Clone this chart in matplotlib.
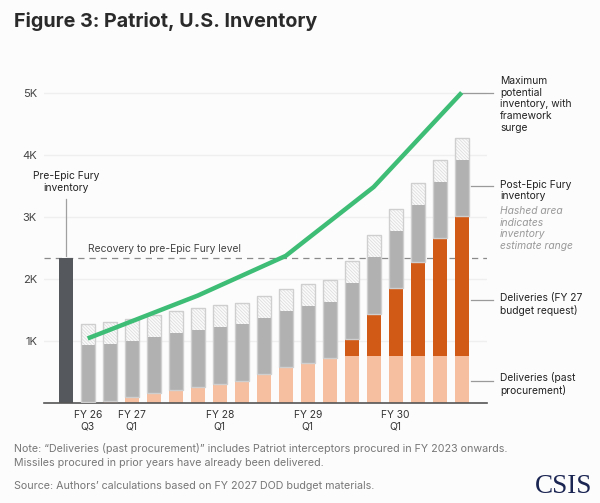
import matplotlib
matplotlib.use("Agg")
import matplotlib.pyplot as plt
import numpy as np

plt.rcParams['font.family'] = ['Inter', 'DejaVu Sans']
plt.rcParams['hatch.linewidth'] = 0.6

# ---------------- data ----------------
quarter_labels = ["FY 26\nQ3", "", "FY 27\nQ1", "", "", "", "FY 28\nQ1", "", "", "",
                  "FY 29\nQ1", "", "", "", "FY 30\nQ1", "", "", ""]
pre_epic_inventory = 2330
past_procurement = [20, 38, 97, 156, 215, 263, 311, 354, 462, 575, 650, 725,
                    752, 752, 752, 752, 752, 752]
fy27_request = [0, 0, 0, 0, 0, 0, 0, 0, 0, 0, 0, 0,
                274, 687, 1106, 1525, 1901, 2256]
post_epic = [909, 907, 907, 913, 913, 913, 913, 915, 913, 907, 907, 908,
             913, 913, 913, 908, 908, 912]
estimate_range = [349, 355, 355, 354, 354, 349, 350, 349, 349, 349, 355, 354,
                  354, 360, 355, 354, 359, 355]
max_line_quarter = [1, 6, 10, 14, 18]
max_line_values = [1040, 1730, 2370, 3480, 5000]
yticks = [1000, 2000, 3000, 4000, 5000]
ytick_labels = ["1K", "2K", "3K", "4K", "5K"]

# ---------------- style ----------------
BG = "#fcfcfc"
C_DARK = "#55595d"
C_GREY = "#b1b1b1"
C_ORANGE = "#d15a17"
C_PEACH = "#f6bf9f"
C_GREEN = "#3dbd75"
C_TEXT = "#222222"

W, H = 600, 503
fig = plt.figure(figsize=(W / 100, H / 100), dpi=100, facecolor=BG)
ax = fig.add_axes([44 / W, 1 - 403 / H, 443 / W, (403 - 74) / H])
ax.set_facecolor(BG)

x = np.arange(1, len(past_procurement) + 1)
bw = 0.636
past = np.array(past_procurement)
fy27 = np.array(fy27_request)
post = np.array(post_epic)
rng = np.array(estimate_range)

ax.set_ylim(0, 5300)
ax.set_xlim(-0.986, 19.15)

for yv in yticks:
    ax.axhline(yv, color="#efefef", lw=1, zorder=0)

ax.bar([0], [pre_epic_inventory], width=bw, color=C_DARK, zorder=2)
ax.bar(x, past, width=bw, color=C_PEACH, zorder=2)
ax.bar(x, fy27, width=bw, bottom=past, color=C_ORANGE, zorder=2)
ax.bar(x, post, width=bw, bottom=past + fy27, color=C_GREY, zorder=2)
ax.bar(x, rng, width=bw, bottom=past + fy27 + post, color="#fbfbfb",
       edgecolor="#dedede", hatch="\\" * 10, lw=0, zorder=2)
ax.bar(x, post + rng, width=bw, bottom=past + fy27, fill=False,
       edgecolor="#cfcfcf", lw=1.0, zorder=3)

ax.axhline(pre_epic_inventory, color="#8a8a8a", lw=0.9, ls=(0, (5, 4)), zorder=1)

ax.plot(max_line_quarter, max_line_values, color=C_GREEN, lw=3.2,
        solid_capstyle="butt", solid_joinstyle="miter", zorder=4)

# axes styling
for s in ["top", "right", "left"]:
    ax.spines[s].set_visible(False)
ax.spines["bottom"].set_color("#555555")
ax.spines["bottom"].set_linewidth(1.2)
ax.set_yticks(yticks)
ax.set_yticklabels(ytick_labels, fontsize=8, color="#444444")
ax.tick_params(axis="y", length=0, pad=5)
ax.set_xticks(x)
ax.set_xticklabels(quarter_labels, fontsize=7.4, color="#333333", linespacing=1.25)
ax.tick_params(axis="x", length=0, pad=5)

# annotations
def ypx(p):
    return (402.7 - p) / 62.08 * 1000

def xpx(p):
    return (p - 65.7) / 22.0

ax.text(0, ypx(182), "Pre-Epic Fury\ninventory", ha="center", va="center",
        fontsize=7.4, color=C_TEXT, linespacing=1.25, clip_on=False)
ax.plot([0, 0], [ypx(199), ypx(256)], color="#a0a0a0", lw=0.9, zorder=3)
ax.text(xpx(88), ypx(249), "Recovery to pre-Epic Fury level", ha="left",
        va="center", fontsize=7.4, color="#444444")

lead_kw = dict(color="#9a9a9a", lw=0.9, clip_on=False, zorder=3)
ax.plot([max_line_quarter[-1], xpx(493)], [max_line_values[-1], max_line_values[-1]], **lead_kw)
ax.plot([xpx(471.5), xpx(493)], [ypx(186), ypx(186)], **lead_kw)
ax.plot([xpx(471.5), xpx(493)], [ypx(300), ypx(300)], **lead_kw)
ax.plot([xpx(471.5), xpx(493)], [ypx(381), ypx(381)], **lead_kw)

tx = xpx(500)
tkw = dict(ha="left", va="center", fontsize=7.4, color=C_TEXT, linespacing=1.2,
           clip_on=False)
ax.text(tx, ypx(104), "Maximum\npotential\ninventory, with\nframework\nsurge", **tkw)
ax.text(tx, ypx(190), "Post-Epic Fury\ninventory", **tkw)
ax.text(tx, ypx(228), "Hashed area\nindicates\ninventory\nestimate range", ha="left",
        va="center", fontsize=7.4, color="#999999", style="italic", linespacing=1.2,
        clip_on=False)
ax.text(tx, ypx(304), "Deliveries (FY 27\nbudget request)", **tkw)
ax.text(tx, ypx(384), "Deliveries (past\nprocurement)", **tkw)

# title and footer
fig.text(14 / W, 1 - 27 / H, "Figure 3: Patriot, U.S. Inventory", fontsize=14.2,
         fontweight="bold", color="#2a2a2a", va="baseline", ha="left")
fig.text(14 / W, 1 - 449 / H,
         "Note: \u201cDeliveries (past procurement)\u201d includes Patriot interceptors procured in FY 2023 onwards.",
         fontsize=7.7, color="#777777", va="center", ha="left")
fig.text(14 / W, 1 - 463 / H,
         "Missiles procured in prior years have already been delivered.",
         fontsize=7.7, color="#777777", va="center", ha="left")
fig.text(14 / W, 1 - 486 / H,
         "Source: Authors\u2019 calculations based on FY 2027 DOD budget materials.",
         fontsize=7.7, color="#777777", va="center", ha="left")
fig.text(592 / W, 1 - 493 / H, "CSIS", fontsize=19.5, family="Liberation Serif",
         color="#1b2552", ha="right", va="baseline")

fig.savefig("out.png", dpi=100, facecolor=BG)
